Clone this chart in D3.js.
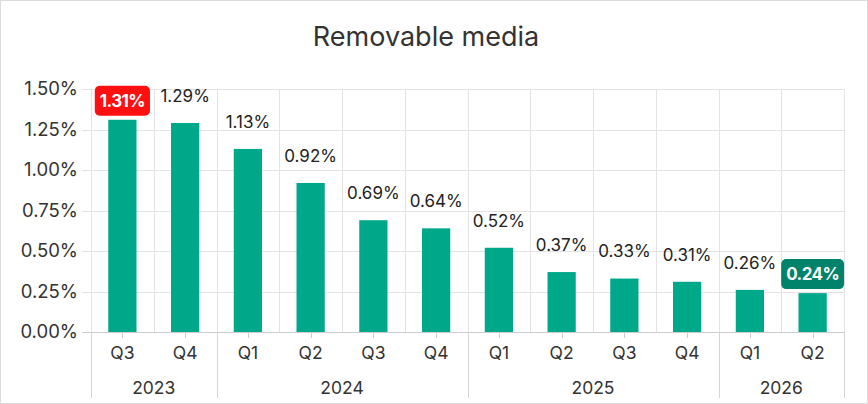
<!DOCTYPE html>
<html>
<head>
<meta charset="utf-8">
<script src="https://cdn.jsdelivr.net/npm/d3@7"></script>
<style>
  body { margin: 0; background: #fff; }
  svg { display: block; font-family: "Inter", "Open Sans", sans-serif; }
</style>
</head>
<body>
<div id="chart"></div>
<script>
var quarters = ["Q3", "Q4", "Q1", "Q2", "Q3", "Q4", "Q1", "Q2", "Q3", "Q4", "Q1", "Q2"];
var years = ["2023", "2023", "2024", "2024", "2024", "2024", "2025", "2025", "2025", "2025", "2026", "2026"];
var values = [1.31, 1.29, 1.13, 0.92, 0.69, 0.64, 0.52, 0.37, 0.33, 0.31, 0.26, 0.24];
var yTicks = [0, 0.25, 0.5, 0.75, 1.0, 1.25, 1.5];
var highlight = { 0: "#ff1010", 11: "#00826b" };

var width = 868, height = 404;
var plotLeft = 91, plotRight = 844, plotTop = 89, plotBottom = 332;

var svg = d3.select("#chart").append("svg")
  .attr("width", width)
  .attr("height", height);

// outer border
svg.append("rect")
  .attr("x", 0.5).attr("y", 0.5)
  .attr("width", width - 1).attr("height", height - 1)
  .attr("fill", "#fff").attr("stroke", "#dcdcdc");

svg.append("text")
  .attr("x", 426).attr("y", 46)
  .attr("text-anchor", "middle")
  .attr("font-size", 27)
  .attr("fill", "#333")
  .text("Removable media");

var idx = d3.range(values.length);
var x = d3.scaleBand().domain(idx).range([plotLeft, plotRight]).paddingInner(0.55).paddingOuter(0.275);
var xb = d3.scaleBand().domain(idx).range([plotLeft, plotRight]);
var y = d3.scaleLinear().domain([0, 1.5]).range([plotBottom, plotTop]);

// horizontal grid
svg.append("g").selectAll("line").data(yTicks).enter().append("line")
  .attr("x1", plotLeft - 9).attr("x2", plotRight)
  .attr("y1", function(d) { return Math.round(y(d)) + 0.5; })
  .attr("y2", function(d) { return Math.round(y(d)) + 0.5; })
  .attr("stroke", function(d) { return d === 0 ? "#cccccc" : "#e3e3e3"; });

// vertical grid at band edges
svg.append("g").selectAll("line").data(d3.range(values.length + 1)).enter().append("line")
  .attr("x1", function(d) { return Math.round(plotLeft + d * xb.step()) + 0.5; })
  .attr("x2", function(d) { return Math.round(plotLeft + d * xb.step()) + 0.5; })
  .attr("y1", plotTop)
  .attr("y2", plotBottom)
  .attr("stroke", "#e3e3e3");

// y axis labels
svg.append("g").selectAll("text").data(yTicks).enter().append("text")
  .attr("x", 78)
  .attr("y", function(d) { return y(d); })
  .attr("dy", "0.35em")
  .attr("text-anchor", "end")
  .attr("font-size", 18.5)
  .attr("fill", "#333")
  .text(function(d) { return d.toFixed(2) + "%"; });

// bars
svg.append("g").selectAll("rect").data(idx).enter().append("rect")
  .attr("x", function(i) { return x(i); })
  .attr("y", function(i) { return y(values[i]); })
  .attr("width", x.bandwidth())
  .attr("height", function(i) { return plotBottom - y(values[i]); })
  .attr("fill", "#00a88a");

// value labels
var lab = svg.append("g").selectAll("g").data(idx).enter().append("g")
  .attr("transform", function(i) {
    var off = highlight[i] ? 19 : 27;
    return "translate(" + (x(i) + x.bandwidth() / 2) + "," + (y(values[i]) - off) + ")";
  });

lab.each(function(i) {
  var g = d3.select(this);
  var hl = highlight[i];
  var t = g.append("text")
    .attr("text-anchor", "middle")
    .attr("dy", "0.35em")
    .attr("font-size", 17)
    .attr("font-weight", hl ? 700 : 400)
    .attr("letter-spacing", hl ? -0.6 : 0)
    .attr("fill", hl ? "#fff" : "#222")
    .text(values[i].toFixed(2) + "%");
  if (hl) {
    var bb = t.node().getBBox();
    g.insert("rect", "text")
      .attr("x", bb.x - 5).attr("y", -15)
      .attr("width", bb.width + 10).attr("height", 30)
      .attr("rx", 5)
      .attr("fill", hl);
  }
});

// x axis ticks and quarter labels
svg.append("g").selectAll("line").data(idx).enter().append("line")
  .attr("x1", function(i) { return Math.round(x(i) + x.bandwidth() / 2) + 0.5; })
  .attr("x2", function(i) { return Math.round(x(i) + x.bandwidth() / 2) + 0.5; })
  .attr("y1", plotBottom).attr("y2", plotBottom + 6)
  .attr("stroke", "#cccccc");

svg.append("g").selectAll("text").data(idx).enter().append("text")
  .attr("x", function(i) { return x(i) + x.bandwidth() / 2; })
  .attr("y", 359)
  .attr("text-anchor", "middle")
  .attr("font-size", 17.5)
  .attr("fill", "#333")
  .text(function(i) { return quarters[i]; });

// year groups
var yearGroups = d3.groups(idx, function(i) { return years[i]; });
var edges = [0];
yearGroups.forEach(function(g) { edges.push(g[1][g[1].length - 1] + 1); });

svg.append("g").selectAll("line").data(edges).enter().append("line")
  .attr("x1", function(d) { return Math.round(plotLeft + d * xb.step()) + 0.5; })
  .attr("x2", function(d) { return Math.round(plotLeft + d * xb.step()) + 0.5; })
  .attr("y1", plotBottom).attr("y2", 398)
  .attr("stroke", "#d4d4d4");

svg.append("g").selectAll("text").data(yearGroups).enter().append("text")
  .attr("x", function(g) {
    var a = g[1][0], b = g[1][g[1].length - 1] + 1;
    return plotLeft + (a + b) / 2 * xb.step();
  })
  .attr("y", 394)
  .attr("text-anchor", "middle")
  .attr("font-size", 17.5)
  .attr("fill", "#333")
  .text(function(g) { return g[0]; });
</script>
</body>
</html>
